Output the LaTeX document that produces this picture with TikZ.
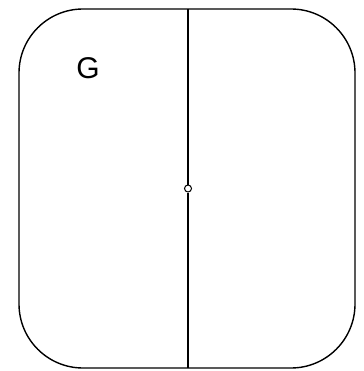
\documentclass[tikz,border=0pt]{standalone}
\usepackage{fontspec}
\setmainfont{Liberation Sans}
\begin{document}
\begin{tikzpicture}[x=1pt,y=-1pt,line width=1.4pt,
  frame/.style={draw,rounded corners=64pt},
  port/.style={circle,draw,fill=white,inner sep=0pt,minimum size=7pt,line width=1pt},
  lbl/.style={font=\fontsize{30}{34}\selectfont,inner sep=0pt}]
\useasboundingbox (0,0) rectangle (363,371);
\draw[frame] (19,9) rectangle (355,368);
\coordinate (top) at (188,9);
\coordinate (bot) at (188,368);
\node[port] (p) at (188,188.5) {};
\draw (top) -- (p.north);
\draw (p.south) -- (bot);
\node[lbl] (g) at (88,68) {G};
\end{tikzpicture}
\end{document}
